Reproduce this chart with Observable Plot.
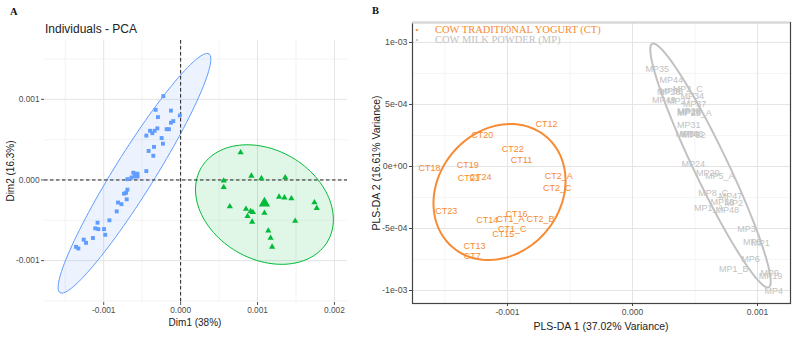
<!DOCTYPE html>
<html><head><meta charset="utf-8">
<script src="https://cdn.jsdelivr.net/npm/d3@7"></script>
<script src="https://cdn.jsdelivr.net/npm/@observablehq/plot@0.6"></script>
<style>
body{margin:0;background:#fff;}
#root{position:relative;width:799px;height:337px;overflow:hidden;font-family:"Liberation Sans",Arial,sans-serif;background:#fff;}
#root svg{position:absolute;top:0;}
.t{position:absolute;white-space:nowrap;line-height:1;}
.rot{transform:translate(-50%,-50%) rotate(-90deg);}
.ctr{transform:translate(-50%,-50%);}
</style>
</head><body><div id="root"></div>
<script>
// ---------- Panel A: PCA individuals ----------
const blueX = [-0.000225,-0.000325,-0.000126,-0.00001,-0.000295,-0.000095,-0.000126,-0.000303,-0.000398,-0.000338,-0.000182,-0.000152,-0.000446,-0.000368,-0.000247,-0.00023,-0.000346,-0.000416,-0.000355,-0.000446,-0.000615,-0.000584,-0.000563,-0.00064,-0.000692,-0.000692,-0.00071,-0.000736,-0.000701,-0.000814,-0.00077,-0.000831,-0.000926,-0.00108,-0.00111,-0.00107,-0.000996,-0.00098,-0.00114,-0.00126,-0.00123,-0.00136,-0.00133];
const blueY = [0.00104,0.00087,0.00086,0.0008,0.00078,0.00073,0.00071,0.00064,0.00061,0.00061,0.00063,0.00063,0.00055,0.00058,0.00052,0.00045,0.00041,0.00036,0.0003,0.00011,0.00009,0.00007,0.00005,0.00003,0.00001,-0.00012,-0.00016,-0.00017,-0.00024,-0.00028,-0.0003,-0.00039,-0.0005,-0.00053,-0.0006,-0.00061,-0.00061,-0.00068,-0.00072,-0.00074,-0.00078,-0.00083,-0.00085];
const greenX = [0.00078,0.00092,0.00105,0.00136,0.00056,0.00056,0.00064,0.00085,0.00091,0.00094,0.00087,0.00093,0.00109,0.00128,0.00135,0.00144,0.00174,0.00177,0.00149,0.00114,0.00117,0.00119];
const greenY = [0.00034,0.00005,0.00002,0.00003,-0.00001,-0.00009,-0.00033,-0.00036,-0.00039,-0.0004,-0.00045,-0.00052,-0.00041,-0.00021,-0.00022,-0.00023,-0.00028,-0.00035,-0.00051,-0.00063,-0.00072,-0.00083];
const centroidX = [-0.00058, 0.00109];
const centroidY = [0.00006, -0.00029];
// ellipses: [centerX, centerY, halfAxis1X, halfAxis1Y, halfAxis2X, halfAxis2Y] in data units
const blueEllipse = [-0.0006, 0.000083, 0.000968, 0.001481, 0.000221, -0.00013];
const greenEllipse = [0.00109, -0.000305, 0.000821, -0.000458, -0.00036, -0.000583];
const xTicksA = [-0.001, 0, 0.001, 0.002];
const xLabelsA = ["-0.001", "0.000", "0.001", "0.002"];
const xMinorA = [-0.0015, -0.0005, 0.0005, 0.0015];
const yTicksA = [-0.001, 0, 0.001];
const yLabelsA = ["-0.001", "0.000", "0.001"];
const yMinorA = [-0.0015, -0.0005, 0.0005, 0.0015];

// ---------- Panel B: PLS-DA ----------
const ctLabels = ["CT12","CT20","CT22","CT11","CT18","CT19","CT21","CT24","CT2_A","CT2_C","CT23","CT16","CT14","CT1_A","CT2_B","CT1_C","CT15","CT13","CT7"];
const ctX = [-0.000688,-0.001202,-0.000958,-0.000888,-0.001624,-0.001318,-0.00131,-0.001216,-0.00059,-0.000602,-0.00149,-0.000928,-0.001162,-0.000976,-0.000736,-0.000962,-0.001034,-0.001264,-0.001282];
const ctY = [0.000339,0.000255,0.000142,0.000054,-0.00001,0.000008,-0.000091,-0.000086,-0.000078,-0.000177,-0.000361,-0.000382,-0.00043,-0.000422,-0.000422,-0.000502,-0.000548,-0.000642,-0.000726];
const mpLabels = ["MP35","MP44","MP2_C","MP26","MP36","MP34","MP49","MP27","MP37","MP29","MP28","MP25_A","MP31","MP46","MP50","MP52","MP24","MP20","MP5_A","MP8_C","MP47","MP33","MP2","MP1_A","MP48","MP3","MP5","MP1","MP6","MP1_B","MP9","MP19","MP4"];
const mpX = [0.000198,0.00031,0.000442,0.00029,0.00031,0.000478,0.00025,0.00037,0.000496,0.00045,0.000455,0.000495,0.00045,0.00047,0.000438,0.00049,0.000486,0.000602,0.000698,0.000646,0.000784,0.000718,0.00081,0.00061,0.000758,0.000912,0.000958,0.001024,0.000944,0.00081,0.001098,0.001104,0.00113];
const mpY = [0.000788,0.000694,0.00062,0.0006,0.000606,0.000565,0.000532,0.000527,0.000506,0.00045,0.00044,0.000427,0.000331,0.00026,0.000263,0.00025,0.00002,-0.000054,-0.000081,-0.000215,-0.000242,-0.000288,-0.000296,-0.000333,-0.000355,-0.000503,-0.00061,-0.000618,-0.00075,-0.000825,-0.00086,-0.000887,-0.001006];
const orangeEllipse = [-0.001064, -0.000206, 0.000372, 0.000448, 0.000375, -0.000316];
const grayEllipse = [0.000624, 0.000008, 0.000466, -0.000982, 0.000122, 0.0000589];
const xTicksB = [-0.001, 0, 0.001];
const xLabelsB = ["-0.001", "0.000", "0.001"];
const xMinorB = [-0.0015, -0.0005, 0.0005];
const yTicksB = [-0.001, -0.0005, 0, 0.0005, 0.001];
const yLabelsB = ["-1e-03", "-5e-04", "0e+00", "5e-04", "1e-03"];
const yMinorB = [-0.00075, -0.00025, 0.00025, 0.00075];
const groupNames = ["COW TRADITIONAL YOGURT (CT)", "COW MILK POWDER (MP)"];

// ---------- helpers ----------
const zip = (xs, ys, extra = {}) => xs.map((x, i) => ({x, y: ys[i], ...Object.fromEntries(Object.entries(extra).map(([k, v]) => [k, v[i]]))}));
function ellipse(p) {
  const [cx, cy, ux, uy, vx, vy] = p;
  return d3.range(0, 121).map(i => {
    const t = i / 120 * 2 * Math.PI;
    return {x: cx + Math.cos(t) * ux + Math.sin(t) * vx, y: cy + Math.cos(t) * uy + Math.sin(t) * vy};
  });
}
const fmt = (ticks, labels) => d => labels[ticks.indexOf(d)];

const BLUE = "#619CFF", GREEN = "#00BA38", ORANGE = "#F68B33", GRAY = "#C2C2C2";
const FONT = "Liberation Sans, Arial, sans-serif";

const plotA = Plot.plot({
  width: 360, height: 337,
  marginLeft: 44, marginRight: 13, marginTop: 40, marginBottom: 35,
  x: {domain: [-0.00177, 0.00217]},
  y: {domain: [-0.00152, 0.00173]},
  style: {fontFamily: FONT, color: "#4d4d4d", background: "transparent", overflow: "visible"},
  marks: [
    Plot.ruleX(xMinorA, {stroke: "#efefef", strokeWidth: 0.7}),
    Plot.ruleY(yMinorA, {stroke: "#efefef", strokeWidth: 0.7}),
    Plot.ruleX(xTicksA, {stroke: "#e4e4e4", strokeWidth: 1}),
    Plot.ruleY(yTicksA, {stroke: "#e4e4e4", strokeWidth: 1}),
    Plot.line(ellipse(blueEllipse), {x: "x", y: "y", fill: BLUE, fillOpacity: 0.12, stroke: BLUE, strokeWidth: 1}),
    Plot.line(ellipse(greenEllipse), {x: "x", y: "y", fill: GREEN, fillOpacity: 0.12, stroke: GREEN, strokeWidth: 1}),
    Plot.ruleX([0], {stroke: "#222", strokeDasharray: "3.5,2.5", strokeWidth: 1}),
    Plot.ruleY([0], {stroke: "#222", strokeDasharray: "3.5,2.5", strokeWidth: 1}),
    Plot.dot(zip(blueX, blueY), {x: "x", y: "y", symbol: "square", r: 2.2, fill: BLUE, stroke: "none"}),
    Plot.dot(zip(greenX, greenY), {x: "x", y: "y", symbol: "triangle", r: 2.3, fill: GREEN, stroke: "none"}),
    Plot.dot([zip(centroidX, centroidY)[0]], {x: "x", y: "y", symbol: "square", r: 3.8, fill: BLUE, stroke: "none"}),
    Plot.dot([zip(centroidX, centroidY)[1]], {x: "x", y: "y", symbol: "triangle", r: 4.2, fill: GREEN, stroke: "none"}),
    Plot.axisX({ticks: xTicksA, tickFormat: fmt(xTicksA, xLabelsA), tickSize: 3, tickPadding: 2, fontSize: 8.3, label: null, stroke: "#555"}),
    Plot.axisY({ticks: yTicksA, tickFormat: fmt(yTicksA, yLabelsA), tickSize: 3, tickPadding: 2, fontSize: 8.3, label: null, stroke: "#555"})
  ]
});
plotA.style.left = "0px";

const plotB = Plot.plot({
  width: 439, height: 337,
  marginLeft: 52, marginRight: 9, marginTop: 22, marginBottom: 34,
  x: {domain: [-0.00176, 0.001264]},
  y: {domain: [-0.001105, 0.001161]},
  style: {fontFamily: FONT, color: "#4d4d4d", background: "transparent", overflow: "visible"},
  marks: [
    Plot.ruleX(xMinorB, {stroke: "#f0f0f0", strokeWidth: 0.7}),
    Plot.ruleY(yMinorB, {stroke: "#f0f0f0", strokeWidth: 0.7}),
    Plot.ruleX(xTicksB, {stroke: "#e4e4e4", strokeWidth: 1}),
    Plot.ruleY(yTicksB, {stroke: "#e4e4e4", strokeWidth: 1}),
    Plot.line(ellipse(orangeEllipse), {x: "x", y: "y", stroke: ORANGE, strokeWidth: 2}),
    Plot.line(ellipse(grayEllipse), {x: "x", y: "y", stroke: GRAY, strokeWidth: 2}),
    Plot.text(zip(ctX, ctY, {label: ctLabels}), {x: "x", y: "y", text: "label", fill: ORANGE, fontSize: 9}),
    Plot.text(zip(mpX, mpY, {label: mpLabels}), {x: "x", y: "y", text: "label", fill: GRAY, fontSize: 9}),
    Plot.frame({stroke: "#444", strokeWidth: 1.2}),
    Plot.ruleY([0.001161], {stroke: "#d8d8d8", strokeWidth: 2}),
    Plot.axisX({ticks: xTicksB, tickFormat: fmt(xTicksB, xLabelsB), tickSize: 3, tickPadding: 2, fontSize: 8.5, label: null, stroke: "#444"}),
    Plot.axisY({ticks: yTicksB, tickFormat: fmt(yTicksB, yLabelsB), tickSize: 3, tickPadding: 2, fontSize: 8.8, label: null, stroke: "#444"})
  ]
});
plotB.style.left = "360px";

const root = document.getElementById("root");
root.appendChild(plotA);
root.appendChild(plotB);

function addText(html, css, cls = "t") {
  const d = document.createElement("div");
  d.className = cls;
  d.textContent = html;
  Object.assign(d.style, css);
  root.appendChild(d);
  return d;
}
const serif = '"Liberation Serif","Times New Roman",serif';
addText("A", {left: "10px", top: "7px", fontFamily: serif, fontWeight: "bold", fontSize: "10.5px", color: "#111"});
addText("B", {left: "372px", top: "6px", fontFamily: serif, fontWeight: "bold", fontSize: "10.5px", color: "#111"});
addText("Individuals - PCA", {left: "45px", top: "22.5px", fontSize: "12px", color: "#222"});
addText("Dim2 (16.3%)", {left: "11px", top: "171px", fontSize: "10px", color: "#222"}, "t rot");
addText("Dim1 (38%)", {left: "195px", top: "323px", fontSize: "10px", color: "#222"}, "t ctr");
addText("PLS-DA 2 (16.61% Variance)", {left: "376px", top: "163px", fontSize: "10.5px", color: "#222"}, "t rot");
addText("PLS-DA 1 (37.02% Variance)", {left: "601px", top: "326px", fontSize: "10.5px", color: "#222"}, "t ctr");
// legend
addText("•", {left: "417px", top: "30px", fontSize: "8px", color: ORANGE}, "t ctr");
addText("•", {left: "417px", top: "40px", fontSize: "8px", color: GRAY}, "t ctr");
addText(groupNames[0], {left: "435px", top: "24.5px", fontFamily: serif, fontSize: "10.5px", color: ORANGE});
addText(groupNames[1], {left: "435px", top: "34.5px", fontFamily: serif, fontSize: "10.5px", color: GRAY});
</script>
</body></html>
